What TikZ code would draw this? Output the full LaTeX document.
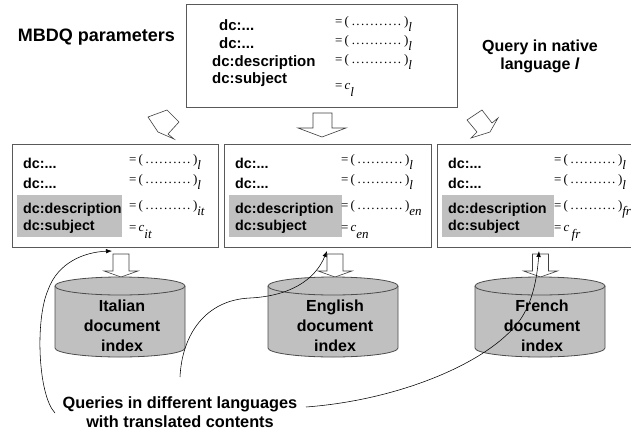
\documentclass[tikz,border=0pt]{standalone}
\usepackage{fontspec}
\setmainfont{Liberation Serif}
\setsansfont{Liberation Sans}
\usetikzlibrary{arrows.meta}
\definecolor{hl}{HTML}{C0C0C0}
\newcommand{\dotrow}[1]{\hbox to #1{\cleaders\hbox to 4.6pt{\hss.\hss}\hfill}}
\newcommand{\pv}[2][50pt]{=\,(\dotrow{#1})\raisebox{-6pt}{\textit{#2}}}
\newcommand{\cv}[1]{=\,\textit{c}\raisebox{-7pt}{\textit{#1}}}
\begin{document}
\begin{tikzpicture}[x=1pt,y=-1pt,
  box/.style={draw=black!65, line width=0.9pt, fill=white, inner sep=0pt, minimum height=103pt},
  hlbox/.style={fill=hl, inner sep=0pt},
  lab/.style={font=\sffamily\bfseries\fontsize{14.3}{16}\selectfont, anchor=base west, inner sep=0pt},
  tlab/.style={font=\sffamily\bfseries\fontsize{15}{17}\selectfont, anchor=base west, inner sep=0pt},
  val/.style={font=\fontsize{13}{13}\selectfont, anchor=base west, inner sep=0pt},
  title/.style={font=\sffamily\bfseries\fontsize{18}{20}\selectfont, anchor=base, inner sep=0pt},
  note/.style={font=\sffamily\bfseries\fontsize{16}{18}\selectfont, anchor=base, inner sep=0pt},
  idx/.style={font=\sffamily\bfseries\fontsize{16}{20}\selectfont, align=center, inner sep=0pt},
  cylline/.style={draw=black!70, line width=0.8pt},
  harrow/.style={draw=black!75, line width=0.6pt, fill=white, line join=miter},
  curve/.style={draw=black, line width=0.55pt, -{Latex[length=6pt,width=4.5pt]}}]
\useasboundingbox (0,0) rectangle (631,434);

% top box
\node[box, minimum width=271pt] (top) at (321.5,55.5) {};
\node[tlab] (t1) at (219,30) {dc:...};
\node[tlab] (t2) at (219,48) {dc:...};
\node[tlab] (t3) at (212,66) {dc:description};
\node[tlab] (t4) at (212,83) {dc:subject};
\node[val] (tv1) at (335,25) {\pv[55pt]{l}};
\node[val] (tv2) at (335,44) {\pv[55pt]{l}};
\node[val] (tv3) at (335,63) {\pv[55pt]{l}};
\node[val] (tv4) at (335,89) {\cv{l}};

\node[title] (mbdq) at (96.5,41) {MBDQ parameters};
\node[note] (q1) at (540,51) {Query in native};
\node[note] (q2) at (540,69) {language \textit{l}};

% main down arrow
\draw[harrow] (313,113) -- (313,128) -- (298,128) -- (322,137) -- (346,128) -- (332,128) -- (332,113) -- cycle;
% tilted arrows
\draw[harrow] (148,117) -- (167,110) -- (179,122) -- (168,134) -- (174,139) -- (158,132) -- cycle;
\draw[harrow] (467,120) -- (482,110) -- (492,123) -- (498,118) -- (490,132) -- (471,138) -- (477,132) -- cycle;

% lower boxes
\foreach \nm/\L/\W/\sub/\subb/\gw/\ax in {it/12/206/it/it/105/121, en/224/207/en/en/113/335, fr/437/208/fr/{\,fr}/112/540.5}{
  \node[box, minimum width=\W pt, anchor=north west] (b\nm) at (\L,144) {};
  \node[hlbox, minimum width=\gw pt, minimum height=42pt, anchor=north west] (h\nm) at (\L+5,195) {};
  \node[lab] (l1\nm) at (\L+11,168) {dc:...};
  \node[lab] (l2\nm) at (\L+11,188) {dc:...};
  \node[lab] (l3\nm) at (\L+11,213) {dc:description};
  \node[lab] (l4\nm) at (\L+11,230) {dc:subject};
  \node[val] (v1\nm) at (\L+117,163) {\pv{l}};
  \node[val] (v2\nm) at (\L+117,183) {\pv{l}};
  \node[val] (v3\nm) at (\L+117,209) {\pv{\sub}};
  \node[val] (v4\nm) at (\L+117,231) {\cv{\subb}};
  \draw[harrow] (\ax-8,254) -- (\ax-8,271) -- (\ax-17,271) -- (\ax,277) -- (\ax+17,271) -- (\ax+8,271) -- (\ax+8,254) -- cycle;
}

% cylinders
\foreach \nm/\cx/\lang in {it/120/Italian, en/333/English, fr/540/French}{
  \fill[hl] (\cx-65,286) -- (\cx-65,348) arc[start angle=180, end angle=0, x radius=65, y radius=9] -- (\cx+65,286) -- cycle;
  \draw[cylline] (\cx-65,286) -- (\cx-65,348) arc[start angle=180, end angle=0, x radius=65, y radius=9] -- (\cx+65,286);
  \draw[cylline, fill=hl] (\cx,286) ellipse[x radius=65, y radius=9];
  \node[idx] (c\nm) at (\cx+2,326) {\lang\\document\\index};
}

% bottom note
\node[font=\sffamily\bfseries\fontsize{16.3}{19.5}\selectfont, align=center, inner sep=0pt] (queries) at (180,412) {Queries in different languages\\with translated contents};

% curves
\coordinate (s1) at (55,413);
\coordinate (e1) at (112,251);
\coordinate (s2) at (180,377);
\coordinate (e2) at (327,251);
\coordinate (s3) at (306,407);
\coordinate (e3) at (539,251);
\draw[curve] (s1) .. controls (38,395) and (35,320) .. (48,290) .. controls (58,262) and (85,252) .. (e1);
\draw[curve] (s2) .. controls (182,335) and (205,300) .. (250,298) .. controls (290,296) and (315,280) .. (e2);
\draw[curve] (s3) .. controls (400,400) and (490,362) .. (520,320) .. controls (532,303) and (537,280) .. (e3);
\end{tikzpicture}
\end{document}
